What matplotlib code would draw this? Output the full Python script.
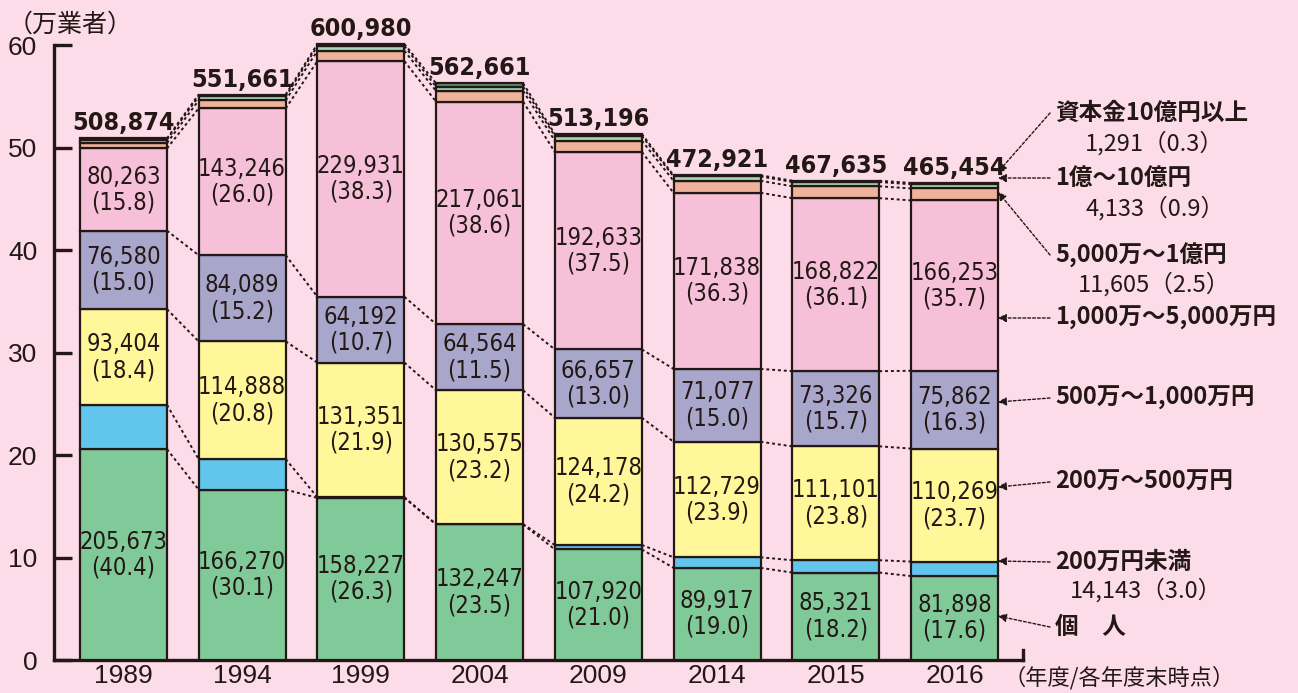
import numpy as np
import matplotlib
matplotlib.use("Agg")
import matplotlib.pyplot as plt
from matplotlib import font_manager

plt.rcParams["font.family"] = ["Noto Sans CJK JP", "DejaVu Sans"]

years = ["1989", "1994", "1999", "2004", "2009", "2014", "2015", "2016"]
totals = [508874, 551661, 600980, 562661, 513196, 472921, 467635, 465454]

# segment values (businesses), bottom to top
kojin = [205673, 166270, 158227, 132247, 107920, 89917, 85321, 81898]
under200 = [43200, 29700, 600, 300, 4308, 10300, 12035, 14143]
m200_500 = [93404, 114888, 131351, 130575, 124178, 112729, 111101, 110269]
m500_1000 = [76580, 84089, 64192, 64564, 66657, 71077, 73326, 75862]
m1000_5000 = [80263, 143246, 229931, 217061, 192633, 171838, 168822, 166253]
m5000_1oku = [5200, 7800, 10100, 10400, 11000, 11700, 11600, 11605]
oku1_10 = [3400, 3800, 4600, 4200, 4700, 4200, 4150, 4133]
over10oku = [1154, 1868, 1979, 3314, 1800, 1160, 1280, 1291]

kojin_pct = ["40.4", "30.1", "26.3", "23.5", "21.0", "19.0", "18.2", "17.6"]
m200_500_pct = ["18.4", "20.8", "21.9", "23.2", "24.2", "23.9", "23.8", "23.7"]
m500_1000_pct = ["15.0", "15.2", "10.7", "11.5", "13.0", "15.0", "15.7", "16.3"]
m1000_5000_pct = ["15.8", "26.0", "38.3", "38.6", "37.5", "36.3", "36.1", "35.7"]

series = [kojin, under200, m200_500, m500_1000, m1000_5000, m5000_1oku, oku1_10, over10oku]
colors = ["#80CA9A", "#62C6EC", "#FFF79A", "#A9A6CC", "#F6C0D8", "#EFB39C", "#A6D7B6", "#5E8C72"]
labelled = {0: kojin_pct, 2: m200_500_pct, 3: m500_1000_pct, 4: m1000_5000_pct}

right_labels = [
    ("資本金10億円以上", "1,291（0.3）"),
    ("1億～10億円", "4,133（0.9）"),
    ("5,000万～1億円", "11,605（2.5）"),
    ("1,000万～5,000万円", None),
    ("500万～1,000万円", None),
    ("200万～500万円", None),
    ("200万円未満", "14,143（3.0）"),
    ("個　人", None),
]

bg = "#FCDCE8"
ink = "#231815"

# condensed face if available, otherwise plain DejaVu
names = {f.name for f in font_manager.fontManager.ttflist}
cond = [f for f in font_manager.fontManager.ttflist
        if f.name == "DejaVu Sans" and "ondensed" in str(f.stretch).lower() + f.fname.lower()]
if "Liberation Sans Narrow" in names:
    num_kw = dict(family="Liberation Sans Narrow")
    lab_size, tot_size = 19, 20
elif cond:
    num_kw = dict(family="DejaVu Sans", fontstretch="condensed")
    lab_size, tot_size = 17, 18
else:
    num_kw = dict(family="DejaVu Sans")
    lab_size, tot_size = 15, 15

fig = plt.figure(figsize=(12.98, 6.93), dpi=100, facecolor=bg)
ax = fig.add_axes([0.0416, 0.0476, 0.7465, 0.917])
ax.set_facecolor(bg)

x = np.arange(len(years))
width = 0.733
bottom = np.zeros(len(years))
tops = []
for i, (vals, c) in enumerate(zip(series, colors)):
    v = np.array(vals) / 10000.0
    ax.bar(x, v, width, bottom=bottom, color=c, edgecolor=ink, linewidth=1.6, zorder=3)
    if i in labelled:
        for j in range(len(years)):
            ax.text(x[j], bottom[j] + v[j] / 2, f"{vals[j]:,}\n({labelled[i][j]})",
                    ha="center", va="center", fontsize=lab_size, color=ink,
                    linespacing=1.1, zorder=4, **num_kw)
    bottom = bottom + v
    tops.append(bottom.copy())

# dotted connectors between neighbouring bars
for b in tops:
    for j in range(len(years) - 1):
        ax.plot([x[j] + width / 2, x[j + 1] - width / 2], [b[j], b[j + 1]],
                color=ink, linestyle=(0, (1.5, 1.5)), linewidth=1.4, zorder=2)

for j in range(len(years)):
    ax.text(x[j], tops[-1][j] + 0.3, f"{totals[j]:,}", ha="center", va="bottom",
            fontsize=tot_size, fontweight="bold", color=ink, zorder=4, **num_kw)

ax.set_xlim(-0.585, 7.577)
ax.set_ylim(0, 62)
ax.set_yticks(range(0, 61, 10))
ax.set_yticklabels([str(t) for t in range(0, 61, 10)], family=["Liberation Sans", "DejaVu Sans"],
                   fontsize=19, color=ink)
ax.set_xticks(x)
ax.set_xticklabels(years, family=["Liberation Sans", "DejaVu Sans"], fontsize=19, color=ink)
ax.tick_params(axis="y", direction="in", length=13, width=2.4, pad=12, color=ink)
ax.tick_params(axis="x", length=0, pad=3)
for s in ["top", "right"]:
    ax.spines[s].set_visible(False)
for s in ["left", "bottom"]:
    ax.spines[s].set_linewidth(2.4)
    ax.spines[s].set_color(ink)
ax.spines["left"].set_bounds(0, 60)
ax.plot([7.577, 7.577], [0, 1.0], color=ink, linewidth=2.4, clip_on=False, zorder=5)

fig.text(0.006, 0.965, "（万業者）", fontsize=18, color=ink, va="center", ha="left")
fig.text(0.773, 0.022, "（年度/各年度末時点）", fontsize=16, color=ink, va="center", ha="left")

# right side annotations (figure pixel coords)
W, H = 1298.0, 693.0
ann = [
    (113, 143, 1085, (998, 172)),
    (178, 208, 1085, (998, 178)),
    (255, 284, 1078, (998, 192)),
    (318, None, None, (998, 318)),
    (398, None, None, (998, 402)),
    (482, None, None, (998, 487)),
    (562, 590, 1070, (998, 561)),
    (627, None, None, (998, 616)),
]
for (name, sub), (ty, sy, sx, tip) in zip(right_labels, ann):
    fig.text(1055 / W, 1 - ty / H, name, fontsize=17, fontweight="bold", color=ink,
             va="center", ha="left")
    if sub:
        fig.text(sx / W, 1 - sy / H, sub, fontsize=17, color=ink, va="center", ha="left")
    start = (1050 / W, 1 - ty / H)
    ax.annotate("", xy=(tip[0] / W, 1 - tip[1] / H), xycoords="figure fraction",
                xytext=start, textcoords="figure fraction",
                arrowprops=dict(arrowstyle="-|>", color=ink, linestyle=(0, (2, 1.5)),
                                linewidth=1.0, mutation_scale=12, shrinkA=0, shrinkB=0),
                annotation_clip=False)

fig.savefig("out.png", dpi=100, facecolor=bg)
